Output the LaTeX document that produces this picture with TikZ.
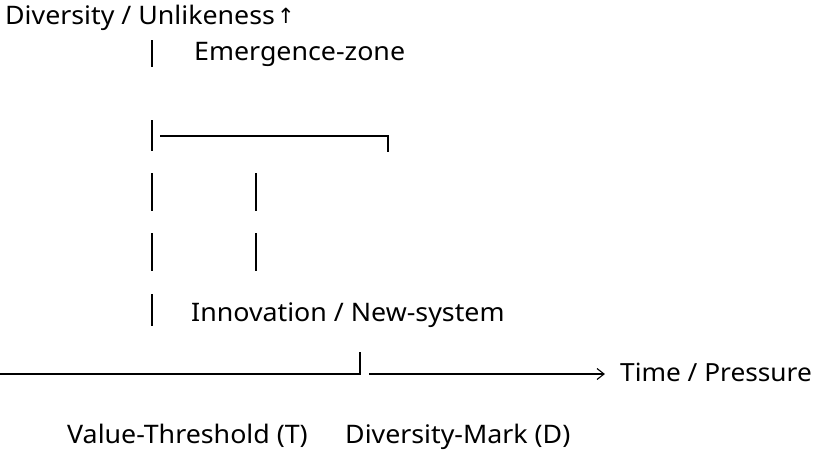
\documentclass[tikz,border=0pt]{standalone}
\usepackage{fontspec}
\setmainfont[FakeStretch=1.05]{Noto Sans}
\newfontfamily\symfont{DejaVu Sans}
\begin{document}
\begin{tikzpicture}[x=1pt,y=-1pt,
  lbl/.style={anchor=base west,inner sep=0pt,font=\fontsize{25.5}{28}\selectfont},
  ln/.style={line width=1.3pt,black}]
\useasboundingbox (0,0) rectangle (818,450);
% texts
\node[lbl] (ylab) at (5,24) {Diversity / Unlikeness};
\node[anchor=west,inner sep=0pt,font=\symfont\fontsize{21}{24}\selectfont] (uparr) at (277,16) {↑};
\node[lbl] (emer) at (194,60) {Emergence-zone};
\node[lbl] (innov) at (191,321) {Innovation / New-system};
\node[lbl,font=\fontsize{25}{28}\selectfont] (xlab) at (620,381) {Time / Pressure};
\node[lbl] (vt) at (67,443) {Value-Threshold (T)};
\node[lbl] (dm) at (345,443) {Diversity-Mark (D)};
% left vertical segments
\foreach \a/\b in {40/67, 120/151, 173/211, 233/271, 294/326}
  \draw[ln] (152,\a) -- (152,\b);
% inner vertical segments
\foreach \a/\b in {173/211, 233/271}
  \draw[ln] (256,\a) -- (256,\b);
% upper bracket
\coordinate (ua) at (160,136);
\coordinate (ub) at (388,136);
\coordinate (uc) at (388,152);
\draw[ln] (ua) -- (ub) -- (uc);
% bottom axis
\coordinate (b0) at (0,374);
\coordinate (b1) at (360,374);
\coordinate (b2) at (360,352);
\draw[ln] (b0) -- (b1) -- (b2);
\coordinate (c0) at (369,374);
\coordinate (c1) at (604,374);
\draw[ln] (c0) -- (c1);
\draw[line width=1.1pt] (597,368.5) -- (604,374) -- (597,379.5);
\end{tikzpicture}
\end{document}
